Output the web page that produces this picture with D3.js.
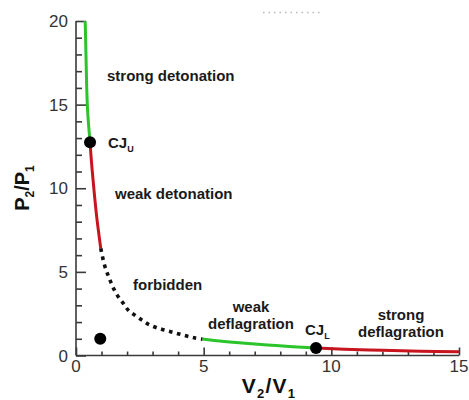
<!DOCTYPE html>
<html>
<head>
<meta charset="utf-8">
<script src="https://cdn.jsdelivr.net/npm/d3@7"></script>
<style>
  html, body { margin: 0; padding: 0; background: #fff; }
  svg { display: block; font-family: "Liberation Sans", Arial, Helvetica, sans-serif; }
</style>
</head>
<body>
<svg id="chart" width="469" height="400"></svg>
<script>
// Hugoniot curve branches, [V2/V1, P2/P1]
const strongDetonation = [[0.36, 20], [0.39, 18], [0.42, 16], [0.46, 14.5], [0.55, 12.75]];
const weakDetonation = [[0.55, 12.75], [0.61, 11.5], [0.68, 10.3], [0.81, 8.3], [0.97, 6.4]];
const forbidden = [[0.97, 6.4], [1.11, 5.44], [1.23, 4.9], [1.36, 4.4], [1.49, 3.95], [1.66, 3.5],
  [1.86, 3.1], [2.05, 2.7], [2.31, 2.4], [2.58, 2.12], [2.84, 1.86], [3.16, 1.66], [3.56, 1.48],
  [3.95, 1.32], [4.34, 1.16], [4.67, 1.04], [4.95, 0.98]];
const weakDeflagration = [[4.95, 0.98], [5.5, 0.88], [6.5, 0.75], [7.5, 0.63], [8.5, 0.53], [9.4, 0.45]];
const strongDeflagration = [[9.4, 0.45], [10.5, 0.38], [12, 0.31], [13.5, 0.26], [15, 0.23]];

// Chapman-Jouguet points and the initial state
const markers = [[0.55, 12.75], [9.4, 0.45], [0.95, 1.0]];

const xTicks = [0, 5, 10, 15];
const yTicks = [0, 5, 10, 15, 20];

const svg = d3.select("#chart");
const x = d3.scaleLinear().domain([0, 15]).range([76, 459]);
const y = d3.scaleLinear().domain([0, 20]).range([355.5, 21]);

const line = d3.line().x(d => x(d[0])).y(d => y(d[1])).curve(d3.curveCatmullRom.alpha(0.5));

const GREEN = "#2bc42b", RED = "#c8141e", AXIS = "#3a3a3a";

// faint dotted stroke near the top
svg.append("line")
  .attr("x1", 263).attr("x2", 323).attr("y1", 12.5).attr("y2", 12.5)
  .attr("stroke", "#b8b8b8").attr("stroke-width", 1.5)
  .attr("stroke-dasharray", "1.5,4");

// axes: ticks point inward
const gx = svg.append("g").attr("transform", `translate(0,${y(0)})`);
gx.call(d3.axisTop(x).tickValues(d3.range(0, 16, 1)).tickSize(4).tickFormat(""));
gx.call(g => g.selectAll(".tick line").filter(d => xTicks.includes(d)).attr("y2", -8));
gx.select(".domain").attr("d", `M${x(0)},0H${x(15)}`);
gx.selectAll("path, line").attr("stroke", AXIS).attr("stroke-width", 1.6);

const gy = svg.append("g").attr("transform", `translate(${x(0)},0)`);
gy.call(d3.axisRight(y).tickValues(d3.range(0, 21, 1)).tickSize(6).tickFormat(""));
gy.call(g => g.selectAll(".tick line").filter(d => yTicks.includes(d)).attr("x2", 10));
gy.select(".domain").attr("d", `M0,${y(0)}V${y(20)}`);
gy.selectAll("path, line").attr("stroke", AXIS).attr("stroke-width", 1.6);

// tick labels
svg.append("g").selectAll("text").data(xTicks).join("text")
  .attr("x", d => x(d)).attr("y", 372)
  .attr("text-anchor", "middle").attr("font-size", 17).attr("fill", "#333")
  .text(d => d);
svg.append("g").selectAll("text").data(yTicks).join("text")
  .attr("x", 68).attr("y", d => y(d) + 6)
  .attr("text-anchor", "end").attr("font-size", 17).attr("fill", "#333")
  .text(d => d);

// curve branches
const branches = [
  { pts: strongDetonation, color: GREEN },
  { pts: weakDetonation, color: RED },
  { pts: weakDeflagration, color: GREEN },
  { pts: strongDeflagration, color: RED }
];
svg.append("g").selectAll("path").data(branches).join("path")
  .attr("d", d => line(d.pts)).attr("fill", "none")
  .attr("stroke", d => d.color).attr("stroke-width", 3);

svg.append("path").attr("d", line(forbidden)).attr("fill", "none")
  .attr("stroke", "#111").attr("stroke-width", 3.6)
  .attr("stroke-dasharray", "3.6,4.6");

svg.append("g").selectAll("circle").data(markers).join("circle")
  .attr("cx", d => x(d[0])).attr("cy", d => y(d[1])).attr("r", 6).attr("fill", "#000");

// region labels
const lab = svg.append("g").attr("font-weight", "bold").attr("font-size", 15).attr("fill", "#1a1a1a");
lab.append("text").attr("x", 107).attr("y", 81).text("strong detonation");
lab.append("text").attr("x", 115).attr("y", 199).text("weak detonation");
lab.append("text").attr("x", 133).attr("y", 290).text("forbidden");

function twoLines(cx, y0, a, b) {
  const t = lab.append("text").attr("x", cx).attr("y", y0).attr("text-anchor", "middle");
  t.append("tspan").attr("x", cx).text(a);
  t.append("tspan").attr("x", cx).attr("dy", 17).text(b);
}
twoLines(251, 312, "weak", "deflagration");
twoLines(401, 320, "strong", "deflagration");

const cju = lab.append("text").attr("x", 108).attr("y", 148);
cju.append("tspan").text("CJ");
cju.append("tspan").attr("dy", 4).attr("font-size", 9).text("U");
const cjl = lab.append("text").attr("x", 305).attr("y", 335);
cjl.append("tspan").text("CJ");
cjl.append("tspan").attr("dy", 4).attr("font-size", 9).text("L");

// axis titles
const xt = svg.append("text").attr("x", 269).attr("y", 393)
  .attr("text-anchor", "middle").attr("font-weight", "bold").attr("font-size", 21)
  .attr("letter-spacing", 1.2).attr("fill", "#111");
xt.append("tspan").text("V");
xt.append("tspan").attr("dy", 5).attr("font-size", 13).text("2");
xt.append("tspan").attr("dy", -5).text("/V");
xt.append("tspan").attr("dy", 5).attr("font-size", 13).text("1");

const yt = svg.append("text").attr("transform", "translate(29,188) rotate(-90)")
  .attr("text-anchor", "middle").attr("font-weight", "bold").attr("font-size", 20).attr("fill", "#111");
yt.append("tspan").text("P");
yt.append("tspan").attr("dy", 5).attr("font-size", 12).text("2");
yt.append("tspan").attr("dy", -5).text("/P");
yt.append("tspan").attr("dy", 5).attr("font-size", 12).text("1");
</script>
</body>
</html>
